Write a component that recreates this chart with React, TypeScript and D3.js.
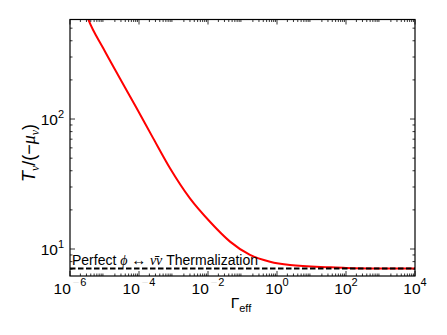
import React from "react";
import * as d3 from "d3";

// Red curve: T_nu / (-mu_nu) against Gamma_eff
const gammaEff = [2.8e-6, 3.39e-6, 9.2e-6, 2.81e-5, 8.57e-5, 2.59e-4, 7.93e-4, 3.0e-3, 1.14e-2, 4.35e-2, 0.165, 0.627, 2.38, 34.4, 100, 1000, 10000];
const tempRatio = [670, 585, 350, 205, 121, 71, 41.8, 24.5, 16.2, 11.4, 9.0, 7.98, 7.53, 7.23, 7.15, 7.09, 7.08];

// perfect thermalization level (dashed line)
const thermalLevel = 7.08;

const xTickExps = [-6, -4, -2, 0, 2, 4];
const yTickExps = [1, 2];

const W = 447;
const H = 335;
const left = 70;
const right = 415;
const top = 19.5;
const bottom = 276;

const SANS = "'Liberation Sans', Arial, Helvetica, sans-serif";
const MATH = "'Liberation Serif', 'DejaVu Serif', serif";

const App = () => {
  const x = d3.scaleLog().domain([1e-6, 1e4]).range([left, right]);
  const y = d3.scaleLog().domain([6.2, 583]).range([bottom, top]);

  const line = d3.line<number>()
    .x((_, i) => x(gammaEff[i]))
    .y(d => y(d))
    .curve(d3.curveMonotoneX);

  // minor ticks
  const xMinor: number[] = [];
  for (let e = -6; e < 4; e++) for (let m = 2; m < 10; m++) xMinor.push(m * Math.pow(10, e));
  const yMinor: number[] = [];
  for (let e = 0; e < 3; e++) for (let m = 2; m < 10; m++) {
    const v = m * Math.pow(10, e);
    if (v > 6.2 && v < 583) yMinor.push(v);
  }

  const supTxt = (e: number) => Math.abs(e).toString();

  return (
    <div style={{ position: "fixed", left: 0, top: 0 }}>
      <svg width={W} height={H} style={{ display: "block", background: "#fff" }}>
        <defs>
          <clipPath id="plotclip">
            <rect x={left} y={top} width={right - left} height={bottom - top} />
          </clipPath>
        </defs>

        <g clipPath="url(#plotclip)">
          <path d={line(tempRatio) || ""} fill="none" stroke="#ff0000" strokeWidth={2} />
          <line x1={left} x2={right} y1={y(thermalLevel)} y2={y(thermalLevel)}
            stroke="#000" strokeWidth={1.8} strokeDasharray="5.5,2.5" />
        </g>

        <text x={72} y={265} fontFamily={SANS} fontSize={14} fill="#000" textLength={186} lengthAdjust="spacing">
          Perfect <tspan fontFamily={MATH} fontStyle="italic">ϕ</tspan>
          <tspan fontFamily={MATH} fontSize={15}> ↔ </tspan>
          <tspan fontFamily={MATH} fontStyle="italic">ν̄ν</tspan> Thermalization
        </text>

        {/* ticks, inward on all sides */}
        <g stroke="#000" strokeWidth={0.8}>
          {xTickExps.map(e => (
            <g key={"xm" + e}>
              <line x1={x(Math.pow(10, e))} x2={x(Math.pow(10, e))} y1={bottom} y2={bottom - 5} />
              <line x1={x(Math.pow(10, e))} x2={x(Math.pow(10, e))} y1={top} y2={top + 5} />
            </g>
          ))}
          {xMinor.map((v, i) => (
            <g key={"xn" + i}>
              <line x1={x(v)} x2={x(v)} y1={bottom} y2={bottom - 2.5} />
              <line x1={x(v)} x2={x(v)} y1={top} y2={top + 2.5} />
            </g>
          ))}
          {yTickExps.map(e => (
            <g key={"ym" + e}>
              <line x1={left} x2={left + 5} y1={y(Math.pow(10, e))} y2={y(Math.pow(10, e))} />
              <line x1={right} x2={right - 5} y1={y(Math.pow(10, e))} y2={y(Math.pow(10, e))} />
            </g>
          ))}
          {yMinor.map((v, i) => (
            <g key={"yn" + i}>
              <line x1={left} x2={left + 2.5} y1={y(v)} y2={y(v)} />
              <line x1={right} x2={right - 2.5} y1={y(v)} y2={y(v)} />
            </g>
          ))}
        </g>

        <rect x={left} y={top} width={right - left} height={bottom - top} fill="none" stroke="#000" strokeWidth={1.2} />

        {/* x tick labels */}
        {xTickExps.map(e => (
          <text key={"xl" + e} x={x(Math.pow(10, e))} y={293.5} textAnchor="middle"
            fontFamily={SANS} fontSize={15.5} fill="#000">
            10
            {e < 0 ? (
              <>
                <tspan dx={2} dy={-7.5} fontSize={11} fill="#e6e6e6">−</tspan>
                <tspan dx={1} fontSize={11}>{supTxt(e)}</tspan>
              </>
            ) : (
              <tspan dy={-7.5} fontSize={11}>{supTxt(e)}</tspan>
            )}
          </text>
        ))}

        {/* y tick labels */}
        {yTickExps.map(e => (
          <text key={"yl" + e} x={64} y={y(Math.pow(10, e)) + 6} textAnchor="end"
            fontFamily={SANS} fontSize={15.5} fill="#000">
            10<tspan dy={-7.5} fontSize={11}>{e}</tspan>
          </text>
        ))}

        {/* axis titles */}
        <text x={241} y={308} textAnchor="middle" fontFamily={SANS} fontSize={15.5} fill="#000">
          Γ<tspan dy={4} fontSize={11}>eff</tspan>
        </text>
        <text transform={`translate(35,153) rotate(-90)`} textAnchor="middle" fontFamily={MATH} fontSize={18} fill="#000">
          <tspan fontFamily={SANS} fontStyle="italic">T</tspan>
          <tspan dy={4} fontSize={12} fontStyle="italic">ν</tspan>
          <tspan dy={-4} fontFamily={SANS}>/(−</tspan>
          <tspan fontStyle="italic">μ</tspan>
          <tspan dy={4} fontSize={12} fontStyle="italic">ν</tspan>
          <tspan dy={-4} fontFamily={SANS}>)</tspan>
        </text>
      </svg>
    </div>
  );
};

export default App;
